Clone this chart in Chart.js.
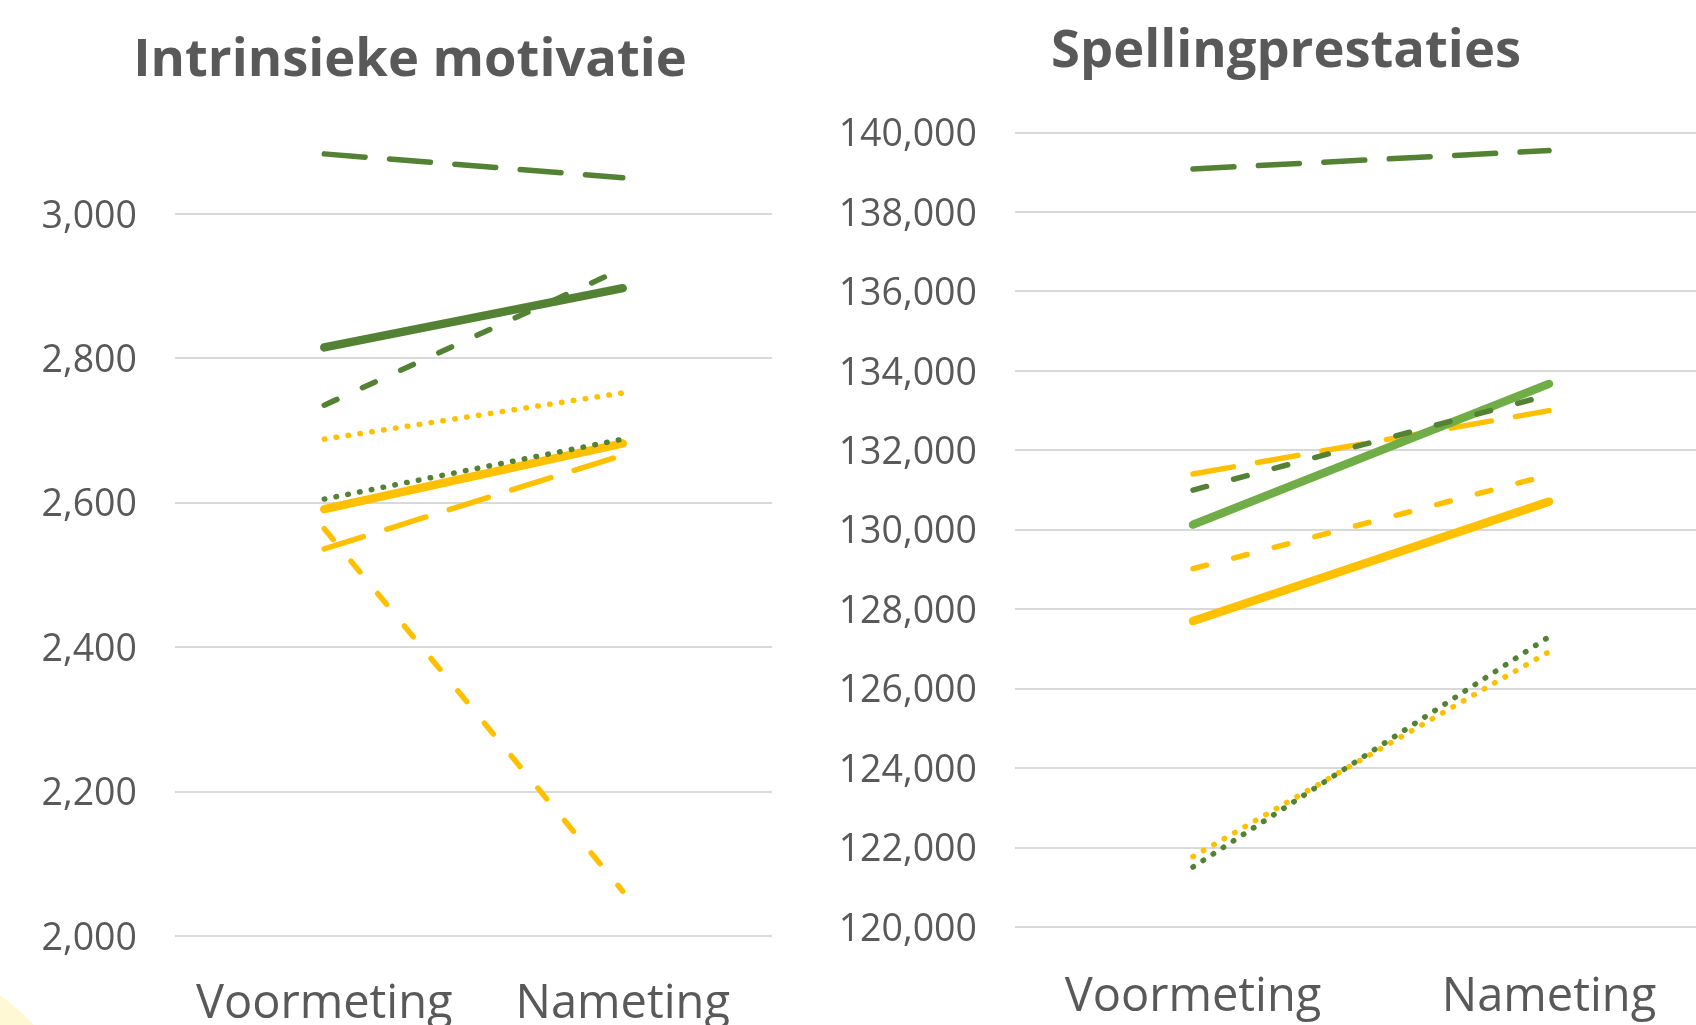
<!DOCTYPE html>
<html>
<head>
<meta charset="utf-8">
<script src="https://cdn.jsdelivr.net/npm/chart.js@4"></script>
<style>
  html, body { margin: 0; padding: 0; background: #fff; overflow: hidden; width: 1696px; height: 1025px; }
  #blob { position: absolute; left: -404px; top: 946px; width: 508px; height: 508px; border-radius: 50%; background: #FFF8D4; }
  #c-motivatie { position: absolute; left: 0; top: 0; }
  #c-spelling { position: absolute; left: 840px; top: 0; }
</style>
</head>
<body>
<div id="blob"></div>
<canvas id="c-motivatie" width="820" height="1100"></canvas>
<canvas id="c-spelling" width="892" height="1100"></canvas>
<script>
// categories
const metingen = ['Voormeting', 'Nameting'];

// Intrinsieke motivatie (waarden met decimale komma)
const motivatieTicks = [2.0, 2.2, 2.4, 2.6, 2.8, 3.0];
const motLangGroen = [3.083, 3.050];
const motVolGroen = [2.815, 2.897];
const motStreepGroen = [2.735, 2.924];
const motPuntGeel = [2.688, 2.752];
const motPuntGroen = [2.605, 2.688];
const motVolGeel = [2.591, 2.682];
const motLangGeel = [2.536, 2.666];
const motStreepGeel = [2.564, 2.062];

// Spellingprestaties
const spellingTicks = [120, 122, 124, 126, 128, 130, 132, 134, 136, 138, 140];
const spLangGroen = [139.085, 139.547];
const spVolGroen = [130.131, 133.673];
const spStreepGroen = [131.000, 133.395];
const spLangGeel = [131.404, 133.000];
const spStreepGeel = [129.019, 131.379];
const spVolGeel = [127.702, 130.709];
const spPuntGroen = [121.510, 127.308];
const spPuntGeel = [121.772, 126.932];

const donkerGroen = '#548235';
const lichtGroen = '#70AD47';
const geel = '#FFC000';
const tekst = '#595959';

Chart.defaults.font.family = "'Open Sans', sans-serif";
Chart.defaults.color = tekst;

// line styles
const vol = { borderWidth: 8.5, borderDash: [] };
const lang = { borderWidth: 5.5, borderDash: [41, 24.5] };
const streep = { borderWidth: 5.5, borderDash: [14, 28] };
const punt = { borderWidth: 5.5, borderDash: [0.5, 11.5] };

function lijn(data, kleur, stijl) {
    return {
        data: data,
        borderColor: kleur,
        backgroundColor: kleur,
        borderWidth: stijl.borderWidth,
        borderDash: stijl.borderDash,
        borderCapStyle: 'round',
        pointRadius: 0,
        pointHoverRadius: 0,
        tension: 0,
        fill: false
    };
}

function komma(v) {
    return v.toFixed(3).replace('.', ',');
}

// lege as rechts houdt ruimte vrij zonder de titel te verschuiven
function maakGrafiek(id, titel, datasets, ticks, yMin, yMax, padTop, rechts, xHoogte, xPad) {
    return new Chart(document.getElementById(id), {
        type: 'line',
        data: { labels: metingen, datasets: datasets },
        options: {
            responsive: false,
            animation: false,
            layout: { padding: { top: padTop, right: 0, left: 0, bottom: 0 } },
            plugins: {
                legend: { display: false },
                tooltip: { enabled: false },
                title: {
                    display: true,
                    text: titel,
                    color: tekst,
                    font: { size: 52.5, weight: 'bold' },
                    padding: { top: 21, bottom: 48.6 }
                }
            },
            scales: {
                x: {
                    offset: true,
                    grid: { display: false, drawTicks: false },
                    border: { display: false },
                    ticks: { font: { size: 47 }, color: tekst, padding: xPad, maxRotation: 0 },
                    afterFit: s => { s.height = xHoogte; }
                },
                y: {
                    min: yMin,
                    max: yMax,
                    grid: { color: '#D9D9D9', lineWidth: 2, drawTicks: false },
                    border: { display: false },
                    ticks: { font: { size: 37.5 }, color: tekst, padding: 38, labelOffset: 3, callback: v => komma(v) },
                    afterBuildTicks: s => { s.ticks = ticks.map(v => ({ value: v })); },
                    afterFit: s => { s.width = 175; }
                },
                rechts: {
                    type: 'linear',
                    position: 'right',
                    grid: { display: false, drawTicks: false },
                    border: { display: false },
                    ticks: { display: false },
                    afterFit: s => { s.width = rechts; }
                }
            }
        }
    });
}

maakGrafiek('c-motivatie', 'Intrinsieke motivatie', [
    lijn(motLangGroen, donkerGroen, lang),
    lijn(motStreepGroen, donkerGroen, streep),
    lijn(motVolGroen, donkerGroen, vol),
    lijn(motPuntGeel, geel, punt),
    lijn(motPuntGroen, donkerGroen, punt),
    lijn(motVolGeel, geel, vol),
    lijn(motLangGeel, geel, lang),
    lijn(motStreepGeel, geel, streep)
], motivatieTicks, 2.0, 3.1, 9, 48, 164, 40);

maakGrafiek('c-spelling', 'Spellingprestaties', [
    lijn(spLangGroen, donkerGroen, lang),
    lijn(spStreepGroen, donkerGroen, streep),
    lijn(spVolGroen, lichtGroen, vol),
    lijn(spLangGeel, geel, lang),
    lijn(spStreepGeel, geel, streep),
    lijn(spVolGeel, geel, vol),
    lijn(spPuntGroen, donkerGroen, punt),
    lijn(spPuntGeel, geel, punt)
], spellingTicks, 120, 140, 0, 5, 173, 42);
</script>
</body>
</html>
